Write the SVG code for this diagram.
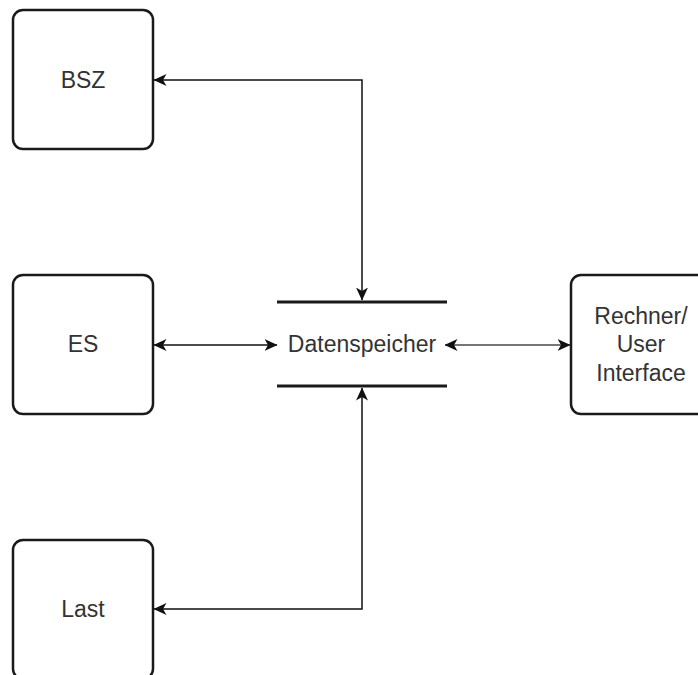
<svg xmlns="http://www.w3.org/2000/svg" width="698" height="675" viewBox="0 0 698 675">
  <style>
    .box { fill: #ffffff; stroke: #1a1a1a; stroke-width: 2.5; }
    .label { font-family: "Liberation Sans", Arial, sans-serif; font-size: 23px; fill: #333333; text-anchor: middle; }
    .store { stroke: #1a1a1a; stroke-width: 3; }
    .link { fill: none; stroke: #111111; stroke-width: 1.5; }
    .link-grey { fill: none; stroke: #777777; stroke-width: 1.8; }
  </style>
  <defs>
    <marker id="arrow" viewBox="0 0 13 13" refX="12.5" refY="6.5" markerWidth="13" markerHeight="13" markerUnits="userSpaceOnUse" orient="auto-start-reverse">
      <path d="M0,0.5 L13,6.5 L0,12.5 L3.5,6.5 Z" fill="#111111"/>
    </marker>
  </defs>
  <rect width="698" height="675" fill="#ffffff"/>

  <g id="connectors">
    <!-- BSZ to data store -->
    <path class="link" d="M362,300 L362,80 L154,80" marker-start="url(#arrow)" marker-end="url(#arrow)"/>
    <!-- ES to data store -->
    <path class="link" d="M154,345 L277,345" marker-start="url(#arrow)" marker-end="url(#arrow)"/>
    <!-- data store to Rechner/User Interface -->
    <path class="link-grey" d="M445,345 L570,345" marker-start="url(#arrow)" marker-end="url(#arrow)"/>
    <!-- Last to data store -->
    <path class="link" d="M362,388 L362,609 L154,609" marker-start="url(#arrow)" marker-end="url(#arrow)"/>
  </g>

  <g id="bsz">
    <rect class="box" x="13" y="10" width="140" height="139" rx="10"/>
    <text class="label" x="83" y="88">BSZ</text>
  </g>

  <g id="es">
    <rect class="box" x="13" y="275" width="140" height="139" rx="10"/>
    <text class="label" x="83" y="352">ES</text>
  </g>

  <g id="last">
    <rect class="box" x="13" y="540" width="140" height="139" rx="10"/>
    <text class="label" x="83" y="617">Last</text>
  </g>

  <g id="datenspeicher">
    <line class="store" x1="277" y1="302" x2="447" y2="302"/>
    <line class="store" x1="277" y1="386" x2="447" y2="386"/>
    <text class="label" x="362" y="352">Datenspeicher</text>
  </g>

  <g id="rechner">
    <rect class="box" x="571" y="275" width="140" height="139" rx="10"/>
    <text class="label" x="641" y="324">Rechner/</text>
    <text class="label" x="641" y="352">User</text>
    <text class="label" x="641" y="381">Interface</text>
  </g>
</svg>
